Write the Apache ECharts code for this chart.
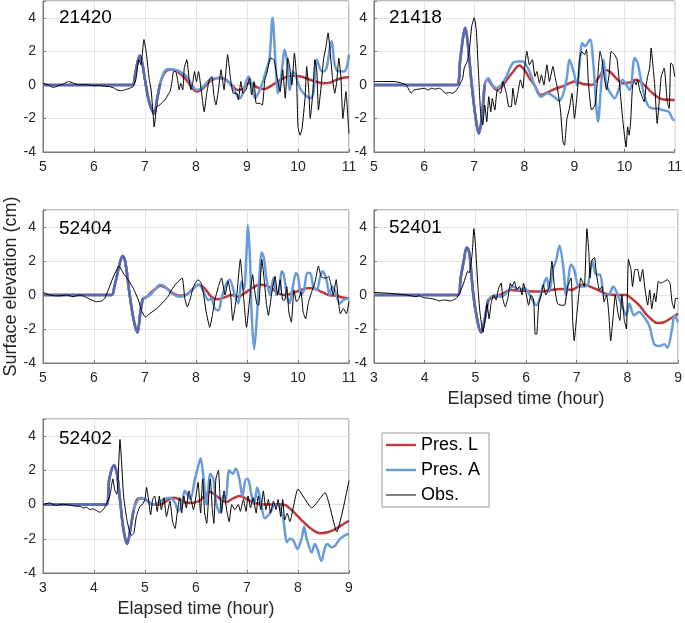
<!DOCTYPE html>
<html><head><meta charset="utf-8">
<script src="https://cdn.jsdelivr.net/npm/echarts@6/dist/echarts.min.js"></script>
<style>html,body{margin:0;padding:0;background:#fff}#c{width:685px;height:623px}</style>
</head><body><div id="c"></div>
<script>
// ---------- DATA (time in hours, elevation in cm) ----------
const stationNames = ['21420', '21418', '52404', '52401', '52402'];
const seriesNames = ['Pres. L', 'Pres. A', 'Obs.'];
const xRanges = [[5, 11], [5, 11], [5, 11], [3, 9], [3, 9]];
const yRange = [-4, 5];
const leadEnd = [7.3, 7.21, 6.96, 5.25, 4.78];

const obs1 = [[5.0,0.1],[5.1,0.0],[5.2,-0.15],[5.3,-0.05],[5.4,0.05],[5.5,0.2],[5.6,0.1],[5.7,0.0],[5.8,0.02],[5.9,0.0],[6.0,-0.05],[6.1,-0.02],[6.2,-0.08],[6.3,-0.1],[6.4,-0.2],[6.45,-0.3],[6.54,-0.35],[6.62,-0.28],[6.7,-0.2],[6.77,-0.1],[6.82,0.3],[6.88,1.5],[6.92,1.2],[6.98,2.7],[7.03,1.8],[7.08,0.4],[7.12,-0.3],[7.16,-1.8],[7.18,-2.5],[7.23,-1.3],[7.29,-1.2],[7.35,-1.0],[7.39,-0.9],[7.45,-0.6],[7.49,-0.4],[7.52,0.0],[7.56,0.8],[7.6,0.8],[7.64,0.3],[7.67,-0.3],[7.7,0.1],[7.74,-0.3],[7.77,1.0],[7.82,1.5],[7.86,0.5],[7.9,-0.3],[7.94,0.2],[7.97,0.8],[8.01,0.2],[8.05,0.8],[8.11,-0.5],[8.16,-1.6],[8.21,-0.5],[8.26,0.3],[8.31,0.5],[8.35,-0.6],[8.39,-1.2],[8.44,-0.3],[8.49,0.9],[8.52,0.3],[8.55,-0.3],[8.58,0.6],[8.62,1.8],[8.68,0.3],[8.73,-0.5],[8.8,-0.5],[8.83,-0.9],[8.88,0.2],[8.92,-0.5],[8.98,-0.3],[9.05,0.4],[9.09,-0.6],[9.14,0.2],[9.18,-1.1],[9.25,-1.1],[9.3,-1.2],[9.35,0.3],[9.39,0.7],[9.46,1.6],[9.53,1.5],[9.58,0.6],[9.65,-0.4],[9.7,0.9],[9.75,-0.8],[9.8,1.6],[9.84,1.0],[9.88,0.0],[9.93,1.9],[9.97,0.5],[10.0,-2.5],[10.04,-3.0],[10.08,-2.6],[10.14,-0.7],[10.17,1.1],[10.21,-0.3],[10.24,-2.0],[10.29,-0.5],[10.33,1.5],[10.37,0.8],[10.4,-1.5],[10.45,-0.2],[10.5,1.5],[10.55,2.3],[10.59,3.1],[10.63,2.0],[10.68,0.3],[10.72,-0.5],[10.76,0.2],[10.8,1.6],[10.84,0.5],[10.88,-2.0],[10.91,-1.2],[10.94,-0.4],[10.99,-2.5],[11.0,-2.9]];
const presA1 = [[5,0],[6.75,0],[6.8,0.5],[6.85,1.3],[6.9,1.75],[6.94,1.4],[7.0,0.3],[7.08,-1.0],[7.18,-1.7],[7.24,-0.8],[7.3,0.1],[7.38,0.8],[7.47,0.95],[7.56,0.9],[7.65,0.85],[7.73,0.7],[7.82,0.5],[7.92,0.0],[8.01,-0.3],[8.11,-0.2],[8.2,0.1],[8.27,0.3],[8.37,0.4],[8.47,0.4],[8.56,0.35],[8.63,0.2],[8.73,-0.2],[8.8,-0.6],[8.86,-0.8],[8.93,-0.4],[9.03,0.5],[9.09,0.0],[9.16,-0.8],[9.22,-0.5],[9.29,0.0],[9.39,1.0],[9.44,1.5],[9.5,4.0],[9.56,1.3],[9.61,-0.5],[9.67,0.5],[9.74,2.1],[9.79,1.3],[9.84,-0.3],[9.9,0.8],[9.96,0.5],[10.04,-0.2],[10.14,-0.6],[10.24,-0.8],[10.3,-0.5],[10.37,1.5],[10.44,0.9],[10.5,0.8],[10.56,1.0],[10.63,2.3],[10.66,2.6],[10.72,1.2],[10.79,0.8],[10.89,0.8],[10.95,1.0],[11.0,1.8]];
const presL1 = [[5,0],[6.75,0],[6.8,0.5],[6.85,1.3],[6.9,1.75],[6.94,1.4],[7.0,0.3],[7.08,-1.0],[7.18,-1.7],[7.24,-0.8],[7.3,0.1],[7.38,0.7],[7.47,0.9],[7.56,0.9],[7.65,0.75],[7.75,0.5],[7.85,0.15],[7.93,-0.2],[8.02,-0.4],[8.12,-0.25],[8.22,0.05],[8.32,0.3],[8.45,0.42],[8.56,0.35],[8.7,0.0],[8.82,-0.3],[8.92,-0.25],[9.03,0.1],[9.12,0.05],[9.2,-0.15],[9.32,-0.25],[9.45,-0.1],[9.6,0.2],[9.75,0.45],[9.9,0.55],[10.05,0.5],[10.2,0.35],[10.35,0.2],[10.5,0.1],[10.6,0.12],[10.72,0.25],[10.85,0.4],[11.0,0.45]];

const obs2 = [[5.0,0.2],[5.2,0.2],[5.4,0.2],[5.5,0.15],[5.64,0.0],[5.7,-0.3],[5.74,-0.5],[5.8,-0.3],[5.9,-0.25],[6.0,-0.2],[6.08,-0.3],[6.15,-0.2],[6.22,-0.25],[6.3,-0.2],[6.36,-0.3],[6.42,-0.5],[6.5,-0.45],[6.56,-0.5],[6.62,-0.4],[6.69,-0.1],[6.74,0.2],[6.77,0.4],[6.8,1.0],[6.86,1.4],[6.9,2.0],[6.95,3.5],[7.0,4.0],[7.04,3.3],[7.08,1.0],[7.13,-1.8],[7.17,-2.4],[7.21,-1.2],[7.25,-2.2],[7.29,-0.7],[7.33,-1.6],[7.36,-0.8],[7.41,-1.5],[7.46,-0.3],[7.53,-0.5],[7.57,0.2],[7.64,-0.5],[7.69,-1.3],[7.74,-1.3],[7.77,-0.2],[7.82,-1.2],[7.87,-0.5],[7.92,0.3],[7.97,-0.2],[8.01,1.2],[8.05,2.0],[8.1,1.2],[8.16,1.5],[8.21,0.5],[8.25,0.8],[8.3,0.1],[8.34,0.6],[8.39,0.0],[8.45,1.2],[8.5,0.2],[8.57,1.1],[8.61,0.5],[8.66,-0.2],[8.72,-1.5],[8.77,-3.4],[8.8,-3.6],[8.85,-2.0],[8.9,-1.4],[8.95,-0.5],[9.0,-2.0],[9.06,-0.3],[9.1,1.5],[9.14,2.0],[9.2,1.8],[9.24,2.1],[9.28,0.0],[9.34,-1.5],[9.41,-1.2],[9.46,0.3],[9.51,2.0],[9.55,1.5],[9.59,0.5],[9.64,-0.3],[9.69,0.6],[9.73,2.0],[9.8,1.8],[9.85,1.5],[9.9,0.0],[9.96,-2.0],[10.03,-3.7],[10.06,-2.5],[10.09,-3.0],[10.12,-2.2],[10.16,0.0],[10.2,0.2],[10.23,0.0],[10.26,0.3],[10.3,-0.3],[10.35,-0.7],[10.39,-1.0],[10.43,0.0],[10.46,0.5],[10.5,1.0],[10.53,2.2],[10.57,1.0],[10.6,0.0],[10.65,-2.3],[10.69,-1.0],[10.73,0.5],[10.79,1.0],[10.85,-1.0],[10.89,-1.4],[10.92,1.3],[10.96,1.2],[11.0,0.5]];
const presA2 = [[5,0],[6.65,0],[6.72,1.5],[6.78,2.9],[6.82,3.4],[6.87,2.5],[6.95,0.0],[7.03,-2.0],[7.09,-2.9],[7.15,-2.0],[7.21,0.0],[7.28,0.4],[7.36,0.0],[7.44,-0.2],[7.54,0.0],[7.64,0.5],[7.77,1.3],[7.87,1.4],[7.97,1.4],[8.05,1.1],[8.13,0.6],[8.2,0.0],[8.33,-0.7],[8.46,-0.5],[8.59,-0.7],[8.69,-0.95],[8.78,-0.5],[8.85,0.5],[8.9,1.5],[8.98,0.8],[9.05,0.0],[9.11,1.5],[9.15,2.5],[9.21,2.3],[9.31,2.7],[9.37,1.5],[9.44,-1.5],[9.47,-2.2],[9.52,-0.5],[9.58,1.5],[9.64,0.0],[9.72,-0.5],[9.8,-0.8],[9.87,-0.4],[9.96,0.3],[10.1,-0.3],[10.2,1.6],[10.26,1.3],[10.36,-0.2],[10.46,-1.2],[10.56,-1.4],[10.65,-1.4],[10.75,-1.5],[10.88,-1.6],[10.98,-2.1],[11.0,-2.1]];
const presL2 = [[5,0],[6.65,0],[6.72,1.5],[6.78,2.9],[6.82,3.4],[6.87,2.5],[6.95,0.0],[7.03,-2.0],[7.09,-2.9],[7.15,-2.0],[7.21,0.0],[7.27,0.3],[7.35,0.0],[7.45,-0.3],[7.55,-0.1],[7.65,0.3],[7.78,0.8],[7.9,1.15],[8.0,0.9],[8.1,0.4],[8.2,0.0],[8.33,-0.6],[8.46,-0.45],[8.6,-0.25],[8.75,-0.1],[8.9,0.1],[9.0,0.2],[9.18,0.05],[9.34,0.0],[9.5,0.5],[9.6,0.9],[9.7,0.8],[9.85,0.35],[9.96,0.1],[10.1,0.15],[10.23,0.3],[10.39,0.0],[10.56,-0.5],[10.75,-0.85],[11.0,-0.9]];

const obs3 = [[5.0,0.15],[5.13,0.0],[5.25,-0.05],[5.33,-0.05],[5.46,0.0],[5.59,-0.1],[5.72,0.0],[5.79,-0.05],[5.92,-0.25],[6.05,-0.4],[6.15,-0.35],[6.21,-0.2],[6.28,0.3],[6.37,1.0],[6.49,1.7],[6.57,1.3],[6.67,0.9],[6.77,0.4],[6.87,-0.3],[6.93,-0.9],[7.01,-1.3],[7.09,-1.1],[7.23,-0.8],[7.36,-0.4],[7.45,-0.1],[7.52,0.3],[7.62,0.7],[7.73,1.0],[7.78,-0.2],[7.83,-0.7],[7.88,-0.3],[7.95,0.5],[8.04,0.9],[8.1,0.7],[8.14,0.2],[8.2,-1.0],[8.27,-1.9],[8.32,-1.2],[8.37,-0.3],[8.44,0.5],[8.5,1.0],[8.57,0.0],[8.63,0.8],[8.68,0.0],[8.72,-1.5],[8.76,-0.8],[8.8,0.0],[8.87,2.1],[8.9,1.2],[8.93,0.0],[8.99,-1.9],[9.06,0.0],[9.11,1.2],[9.14,0.5],[9.19,-0.5],[9.23,-0.6],[9.29,2.1],[9.34,0.8],[9.38,-0.5],[9.42,-1.2],[9.48,0.0],[9.55,1.1],[9.6,0.0],[9.65,0.9],[9.7,-0.3],[9.74,-0.3],[9.78,0.5],[9.82,-1.0],[9.87,-1.6],[9.92,0.3],[9.97,-0.4],[10.02,-0.2],[10.06,0.2],[10.1,-1.0],[10.15,-1.4],[10.2,-0.5],[10.27,0.2],[10.33,0.7],[10.4,1.7],[10.45,1.1],[10.5,1.0],[10.56,1.0],[10.6,1.1],[10.64,0.7],[10.69,0.0],[10.75,0.9],[10.79,-0.3],[10.83,-1.1],[10.89,-0.8],[10.95,-1.1],[11.0,-0.35]];
const presA3 = [[5,0],[6.34,0],[6.4,0.5],[6.44,1.0],[6.5,1.8],[6.56,2.3],[6.61,2.0],[6.7,0.0],[6.78,-1.5],[6.85,-2.2],[6.91,-1.0],[6.96,-0.2],[7.03,-0.1],[7.1,0.0],[7.19,0.3],[7.29,0.6],[7.39,0.5],[7.52,0.1],[7.68,-0.1],[7.81,0.0],[7.95,0.4],[8.06,0.6],[8.15,0.2],[8.24,-0.3],[8.3,-0.2],[8.37,-0.8],[8.44,-0.9],[8.5,-0.2],[8.6,0.7],[8.66,0.9],[8.76,0.0],[8.83,-0.5],[8.89,0.8],[8.94,0.3],[8.99,2.5],[9.02,4.1],[9.06,2.0],[9.09,-1.0],[9.14,-3.2],[9.19,-1.5],[9.24,1.0],[9.29,2.5],[9.33,2.2],[9.38,1.0],[9.45,0.0],[9.52,1.0],[9.58,0.0],[9.63,0.2],[9.68,1.4],[9.72,1.2],[9.78,0.0],[9.83,-0.5],[9.9,0.5],[9.96,1.3],[10.0,1.1],[10.06,0.0],[10.12,0.3],[10.18,1.3],[10.24,1.3],[10.3,0.5],[10.37,0.3],[10.43,1.0],[10.48,1.4],[10.55,1.0],[10.62,0.0],[10.67,0.5],[10.73,0.2],[10.82,-0.5],[10.89,-0.3],[11.0,-0.2]];
const presL3 = [[5,0],[6.34,0],[6.4,0.5],[6.44,1.0],[6.5,1.8],[6.56,2.3],[6.61,2.0],[6.7,0.0],[6.78,-1.5],[6.85,-2.2],[6.91,-1.0],[6.96,-0.2],[7.02,-0.15],[7.1,0.1],[7.2,0.35],[7.3,0.55],[7.42,0.4],[7.55,0.1],[7.68,-0.05],[7.8,0.0],[7.92,0.3],[8.05,0.6],[8.18,0.35],[8.3,-0.1],[8.42,-0.25],[8.55,-0.15],[8.7,0.0],[8.82,-0.1],[8.95,0.1],[9.1,0.4],[9.25,0.6],[9.38,0.55],[9.5,0.35],[9.62,0.1],[9.75,0.0],[9.88,0.1],[10.02,0.25],[10.18,0.4],[10.3,0.4],[10.45,0.2],[10.6,0.0],[10.75,-0.05],[10.88,-0.15],[11.0,-0.2]];

const obs4 = [[3.0,0.15],[3.31,0.1],[3.64,0.0],[3.83,-0.1],[3.9,-0.05],[3.97,-0.15],[4.1,-0.2],[4.2,-0.25],[4.29,-0.35],[4.35,-0.3],[4.42,-0.3],[4.5,-0.35],[4.56,-0.3],[4.62,-0.2],[4.69,0.1],[4.77,0.7],[4.85,1.4],[4.88,1.3],[4.94,2.5],[4.97,3.9],[5.0,3.0],[5.05,0.5],[5.09,-1.0],[5.15,-2.2],[5.19,-1.5],[5.23,-0.5],[5.27,-1.4],[5.31,-0.5],[5.36,0.0],[5.41,-0.3],[5.46,0.4],[5.51,0.7],[5.54,-0.2],[5.59,-0.7],[5.64,-0.2],[5.69,0.7],[5.72,0.5],[5.77,0.8],[5.82,0.3],[5.87,0.5],[5.92,0.0],[5.95,0.7],[6.0,0.1],[6.05,-0.6],[6.1,0.0],[6.15,-0.3],[6.18,-2.3],[6.21,-2.3],[6.25,-0.5],[6.3,0.0],[6.34,0.6],[6.39,0.0],[6.46,0.5],[6.51,2.0],[6.56,0.5],[6.62,-0.5],[6.69,-0.6],[6.76,-0.6],[6.82,0.5],[6.89,1.0],[6.92,-1.5],[6.95,-2.7],[7.0,-1.2],[7.04,0.0],[7.08,1.0],[7.15,0.5],[7.2,3.9],[7.24,2.5],[7.26,1.0],[7.29,2.0],[7.35,2.2],[7.39,1.2],[7.45,0.3],[7.5,0.5],[7.54,-0.4],[7.59,0.0],[7.63,-1.0],[7.67,-2.7],[7.72,-1.2],[7.76,0.0],[7.81,-1.0],[7.85,-1.5],[7.89,0.0],[7.94,-1.5],[7.98,-2.0],[8.02,2.1],[8.07,1.5],[8.1,0.5],[8.15,1.5],[8.2,1.5],[8.25,0.8],[8.3,1.5],[8.34,0.5],[8.4,-0.6],[8.44,0.3],[8.48,-0.8],[8.53,0.1],[8.56,-0.4],[8.61,0.8],[8.66,0.7],[8.73,0.8],[8.79,0.9],[8.84,0.7],[8.88,-0.4],[8.92,-0.8],[8.95,-0.2],[9.0,-0.2]];
const presA4 = [[3,0],[4.65,0],[4.71,1.0],[4.77,2.0],[4.83,2.8],[4.88,2.5],[4.96,0.0],[5.04,-1.5],[5.11,-2.2],[5.18,-1.5],[5.25,-0.3],[5.31,-0.1],[5.41,0.0],[5.51,-0.1],[5.64,0.2],[5.74,0.5],[5.87,0.3],[5.97,0.4],[6.07,0.0],[6.2,-0.6],[6.26,-0.3],[6.33,0.5],[6.41,1.0],[6.46,0.2],[6.53,1.5],[6.59,2.0],[6.66,2.9],[6.74,1.5],[6.79,0.0],[6.89,1.8],[6.95,1.5],[7.04,0.5],[7.12,0.5],[7.22,0.6],[7.31,2.0],[7.38,1.2],[7.46,1.2],[7.54,0.0],[7.63,0.0],[7.72,0.5],[7.81,0.0],[7.9,-0.7],[7.98,-1.2],[8.04,-0.5],[8.13,-1.2],[8.23,-1.0],[8.33,-1.3],[8.43,-1.8],[8.53,-2.9],[8.63,-3.0],[8.73,-2.9],[8.79,-3.1],[8.88,-2.0],[8.93,-1.2],[9.0,-1.6]];
const presL4 = [[3,0],[4.65,0],[4.71,1.0],[4.77,2.0],[4.83,2.8],[4.88,2.5],[4.96,0.0],[5.04,-1.5],[5.11,-2.2],[5.18,-1.5],[5.25,-0.4],[5.32,-0.15],[5.42,-0.1],[5.55,0.1],[5.7,0.3],[5.85,0.25],[6.0,0.25],[6.15,0.2],[6.3,0.2],[6.5,0.3],[6.7,0.35],[6.9,0.3],[7.05,0.55],[7.15,0.6],[7.3,0.45],[7.45,0.25],[7.6,0.05],[7.8,0.0],[7.97,0.0],[8.1,-0.25],[8.23,-0.6],[8.35,-1.05],[8.46,-1.4],[8.6,-1.65],[8.72,-1.6],[8.85,-1.38],[9.0,-1.1]];

const obs5 = [[3.0,0.0],[3.13,0.1],[3.2,0.0],[3.26,-0.05],[3.35,0.02],[3.46,0.0],[3.55,-0.05],[3.65,-0.1],[3.72,-0.1],[3.79,-0.2],[3.85,-0.15],[3.92,-0.3],[3.98,-0.25],[4.05,-0.35],[4.11,-0.45],[4.18,-0.3],[4.24,0.0],[4.31,0.5],[4.37,1.5],[4.41,0.8],[4.45,0.6],[4.51,3.8],[4.54,2.5],[4.58,0.5],[4.64,-0.8],[4.69,-1.5],[4.73,-1.8],[4.78,-1.7],[4.83,-0.7],[4.9,-0.1],[4.95,0.0],[5.0,0.3],[5.03,1.0],[5.06,0.5],[5.11,-0.6],[5.15,0.3],[5.19,0.5],[5.24,-0.4],[5.28,0.5],[5.32,-0.3],[5.37,0.4],[5.42,-0.7],[5.49,0.2],[5.54,-1.0],[5.59,-1.4],[5.63,-0.5],[5.68,0.4],[5.72,-0.5],[5.76,0.5],[5.81,-0.2],[5.86,0.8],[5.91,0.2],[5.95,-0.3],[6.0,0.5],[6.04,1.3],[6.09,-0.5],[6.13,1.5],[6.17,-0.5],[6.21,-1.1],[6.25,0.5],[6.28,1.5],[6.32,-0.3],[6.35,-1.1],[6.39,1.5],[6.44,2.0],[6.47,0.5],[6.5,-0.5],[6.55,0.8],[6.6,-0.3],[6.65,-1.0],[6.7,0.0],[6.76,-0.3],[6.83,0.0],[6.87,-0.4],[6.93,0.3],[6.98,-0.4],[7.02,0.5],[7.07,-0.2],[7.12,0.4],[7.18,-0.5],[7.22,0.5],[7.27,-0.3],[7.32,0.8],[7.37,-0.3],[7.42,0.3],[7.46,-0.5],[7.52,0.2],[7.57,-0.3],[7.61,0.3],[7.66,-0.7],[7.7,0.3],[7.74,-0.9],[7.79,-0.5],[7.84,-1.0],[8.0,0.9],[8.27,-0.2],[8.53,0.7],[8.76,-1.6],[9.0,1.4]];
const presA5 = [[3,0],[4.24,0],[4.3,1.5],[4.39,2.3],[4.45,1.8],[4.52,0.0],[4.58,-1.5],[4.65,-2.3],[4.71,-1.5],[4.78,-0.3],[4.87,0.3],[4.93,0.4],[5.06,0.2],[5.16,0.0],[5.26,0.1],[5.36,0.3],[5.49,0.4],[5.59,0.1],[5.65,-0.4],[5.72,0.0],[5.78,0.8],[5.85,0.5],[5.89,0.3],[5.98,1.5],[6.04,2.2],[6.09,2.7],[6.15,1.5],[6.21,0.0],[6.28,1.8],[6.34,1.5],[6.4,0.0],[6.47,-0.5],[6.53,0.5],[6.58,0.3],[6.65,2.0],[6.72,1.8],[6.78,2.1],[6.85,1.5],[6.91,0.5],[6.98,1.5],[7.02,1.5],[7.09,0.5],[7.14,0.0],[7.2,1.0],[7.27,0.2],[7.35,-0.8],[7.45,-0.5],[7.55,0.0],[7.61,0.0],[7.68,-0.5],[7.71,-0.8],[7.74,-1.5],[7.78,-2.2],[7.84,-2.0],[7.91,-2.1],[7.99,-2.6],[8.07,-2.0],[8.12,-1.3],[8.17,-2.0],[8.27,-2.8],[8.33,-2.3],[8.38,-2.6],[8.46,-3.3],[8.53,-2.5],[8.58,-2.3],[8.65,-2.5],[8.73,-2.4],[8.82,-2.0],[8.92,-1.8],[9.0,-1.7]];
const presL5 = [[3,0],[4.24,0],[4.3,1.5],[4.39,2.3],[4.45,1.8],[4.52,0.0],[4.58,-1.5],[4.65,-2.3],[4.71,-1.5],[4.78,-0.3],[4.87,0.35],[4.95,0.35],[5.05,0.2],[5.15,0.0],[5.3,0.0],[5.42,0.2],[5.55,0.4],[5.68,0.3],[5.82,0.1],[5.95,0.1],[6.08,0.25],[6.2,0.6],[6.27,0.75],[6.4,0.5],[6.6,0.15],[6.72,0.35],[6.86,0.5],[7.0,0.3],[7.15,0.1],[7.32,0.0],[7.5,0.0],[7.71,0.0],[7.85,-0.25],[7.97,-0.6],[8.1,-1.0],[8.25,-1.4],[8.43,-1.67],[8.6,-1.6],[8.75,-1.4],[8.9,-1.12],[9.0,-0.96]];

const obsData = [obs1, obs2, obs3, obs4, obs5];
const presAData = [presA1, presA2, presA3, presA4, presA5];
const presLData = [presL1, presL2, presL3, presL4, presL5];

// ---------- LAYOUT / STYLE ----------
const FONT = '"Liberation Sans", Arial, Helvetica, sans-serif';
const layout = [
  {left: 43,  top: 1,   width: 306, height: 151, lx: 59,  ly: 8},
  {left: 374, top: 1,   width: 305, height: 151, lx: 389, ly: 8},
  {left: 43,  top: 210, width: 306, height: 153, lx: 59,  ly: 219},
  {left: 374, top: 210, width: 305, height: 153, lx: 389, ly: 218},
  {left: 43,  top: 419, width: 306, height: 154, lx: 59,  ly: 429}
];
const RED = '#BC3A3E', BLUE = '#6A9BD9', LEADBLUE = '#5868B2', BORDER = '#7a7a7a', GRIDC = '#e4e4e4', TXT = '#262626';
const legendIcons = ['path://M0,0H30V2.4H0Z', 'path://M0,0H30V2.4H0Z', 'path://M0,0H30V1H0Z'];

const grids = [], xAxes = [], yAxes = [], series = [], titles = [];
layout.forEach((L, i) => {
  grids.push({left: L.left, top: L.top, width: L.width, height: L.height, show: true,
    borderColor: BORDER, borderWidth: 1, backgroundColor: 'transparent', containLabel: false});
  const xa = {gridIndex: i, type: 'value', min: xRanges[i][0], max: xRanges[i][1], interval: 1,
    axisLine: {show: true, onZero: false, lineStyle: {color: BORDER}},
    axisTick: {show: true, inside: true, length: 3, lineStyle: {color: BORDER}},
    axisLabel: {fontSize: 14, color: TXT, margin: 8, fontFamily: FONT},
    splitLine: {show: true, lineStyle: {color: GRIDC, width: 1}}};
  if (i === 3 || i === 4) {
    xa.name = 'Elapsed time (hour)'; xa.nameLocation = 'middle'; xa.nameGap = 27;
    xa.nameTextStyle = {fontSize: 18, color: TXT, fontFamily: FONT};
  }
  xAxes.push(xa);
  const ya = {gridIndex: i, type: 'value', min: yRange[0], max: yRange[1], interval: 2,
    axisLine: {show: true, onZero: false, lineStyle: {color: BORDER}},
    axisTick: {show: true, inside: true, length: 3, lineStyle: {color: BORDER}},
    axisLabel: {fontSize: 14, color: TXT, margin: 7, fontFamily: FONT,
      formatter: v => (v === 5 ? '' : String(v))},
    splitLine: {show: true, lineStyle: {color: GRIDC, width: 1}}};
  if (i === 2) {
    ya.name = 'Surface elevation (cm)'; ya.nameLocation = 'middle'; ya.nameGap = 23;
    ya.nameTextStyle = {fontSize: 18, color: TXT, fontFamily: FONT};
  }
  yAxes.push(ya);
  titles.push({text: stationNames[i], left: L.lx, top: L.ly, padding: 0,
    textStyle: {fontSize: 19, fontWeight: 'normal', color: '#000', fontFamily: FONT}});

  const common = {type: 'line', xAxisIndex: i, yAxisIndex: i, showSymbol: false, symbol: 'none'};
  series.push(Object.assign({}, common, {name: seriesNames[0], data: presLData[i], smooth: 0.4, z: 2,
    color: RED, lineStyle: {color: RED, width: 2.5}, itemStyle: {color: RED}}));
  series.push(Object.assign({}, common, {name: seriesNames[1], data: presAData[i], smooth: 0.3, z: 3,
    color: BLUE, lineStyle: {color: BLUE, width: 2.5}, itemStyle: {color: BLUE}}));
  // leading wave where both predictions coincide (drawn darker, as in the reference)
  series.push(Object.assign({}, common, {name: 'lead' + i, data: presAData[i].filter(p => p[0] <= leadEnd[i]),
    smooth: 0.3, z: 3, color: LEADBLUE, lineStyle: {color: LEADBLUE, width: 2.5}, itemStyle: {color: LEADBLUE}}));
  series.push(Object.assign({}, common, {name: seriesNames[2], data: obsData[i], smooth: 0.15, z: 4,
    color: '#000', lineStyle: {color: '#000', width: 1}, itemStyle: {color: '#000'}}));
});

const chart = echarts.init(document.getElementById('c'), null, {renderer: 'canvas'});
chart.setOption({
  animation: false,
  backgroundColor: '#fff',
  title: titles,
  grid: grids,
  xAxis: xAxes,
  yAxis: yAxes,
  legend: {
    data: seriesNames.map((n, k) => ({name: n, icon: legendIcons[k]})),
    orient: 'vertical', left: 382, top: 433,
    itemWidth: 30, itemHeight: 14, itemGap: 7, padding: [3, 9, 3, 4],
    borderColor: '#999', borderWidth: 1, backgroundColor: '#fff',
    textStyle: {fontSize: 18, color: '#000', fontFamily: FONT}
  },
  series: series
});
</script></body></html>
